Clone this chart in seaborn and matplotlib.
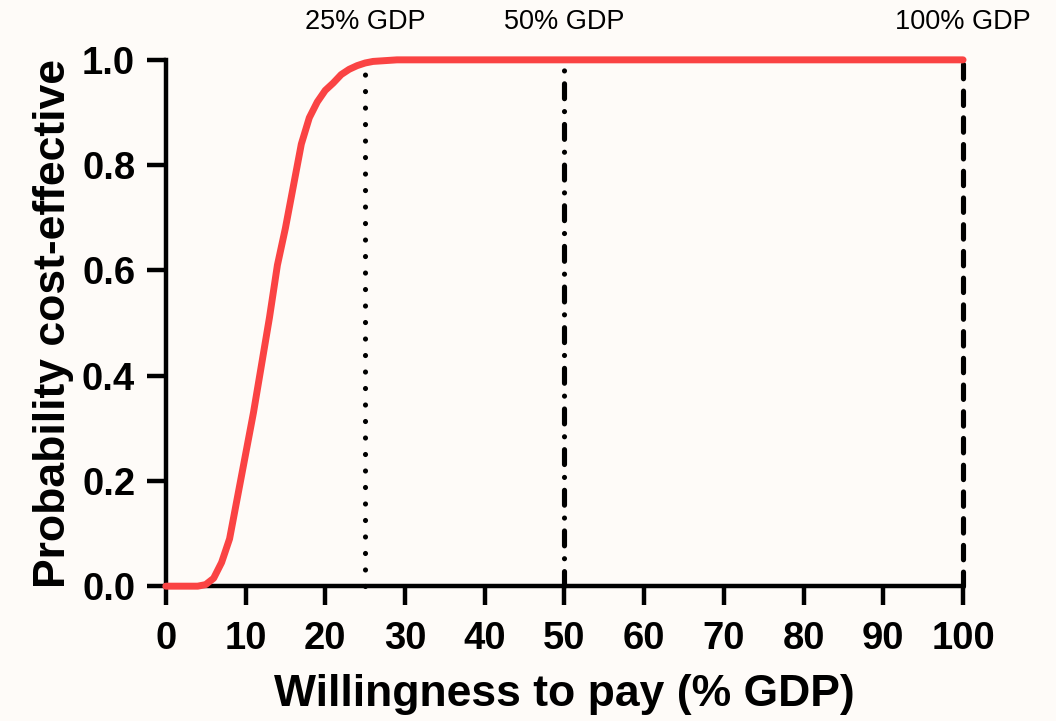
import matplotlib
matplotlib.use("Agg")
import matplotlib.pyplot as plt
import seaborn as sns
import pandas as pd

# ===============================
# DATA
# ===============================
wtp = [0, 1, 2, 3, 4, 5, 6, 7, 8, 9, 10, 11, 12, 13, 14, 15, 16, 17, 18, 19,
       20, 21, 22, 23, 24, 25, 26, 27, 28, 29, 30, 40, 50, 60, 70, 80, 90, 100]
prob = [0.0, 0.0, 0.0, 0.0, 0.0, 0.003, 0.015, 0.045, 0.09, 0.17, 0.25, 0.33,
        0.42, 0.51, 0.61, 0.68, 0.76, 0.84, 0.89, 0.92, 0.942, 0.956, 0.972,
        0.982, 0.989, 0.994, 0.997, 0.998, 0.999, 1.0, 1.0, 1.0, 1.0, 1.0,
        1.0, 1.0, 1.0, 1.0]

thresholds = [25, 50, 100]
threshold_labels = ["25% GDP", "50% GDP", "100% GDP"]

x_ticks = [0, 10, 20, 30, 40, 50, 60, 70, 80, 90, 100]
y_ticks = [0.0, 0.2, 0.4, 0.6, 0.8, 1.0]

df = pd.DataFrame({"wtp": wtp, "prob": prob})

# ===============================
# STYLE
# ===============================
sns.set_theme(style="ticks")
plt.rcParams["font.family"] = ["Liberation Sans", "DejaVu Sans"]
bg = "#fefbf8"

fig = plt.figure(figsize=(10.56, 7.21), dpi=100, facecolor=bg)
ax = fig.add_axes([0.157, 0.187, 0.755, 0.730], facecolor=bg)

# threshold lines: dotted / dash-dot / dashed
styles = [(0, (0.01, 3.2)), (0, (2.9, 2.5, 0.01, 2.5)), (0, (2.8, 2.4))]
for t, ls, lab in zip(thresholds, styles, threshold_labels):
    ax.plot([t, t], [0, 1], color="black", lw=3.7, ls=ls,
            dash_capstyle="round", solid_capstyle="round", clip_on=False, zorder=2)
    ax.text(t, 1.072, lab, ha="center", va="center", fontsize=19.5,
            color="black", clip_on=False)

# curve
sns.lineplot(data=df, x="wtp", y="prob", color="#fa4343", lw=5, ax=ax,
             clip_on=False, zorder=3)

ax.set_xlim(0, 100)
ax.set_ylim(0, 1)
ax.set_xticks(x_ticks)
ax.set_yticks(y_ticks)
ax.set_xticklabels([str(v) for v in x_ticks])
ax.set_yticklabels([f"{v:.1f}" for v in y_ticks])

for lab in ax.get_xticklabels() + ax.get_yticklabels():
    lab.set_fontweight("bold")
ax.tick_params(axis="both", labelsize=27.5, width=3.2, length=14, color="black",
               labelcolor="black")
ax.tick_params(axis="x", pad=11)
ax.tick_params(axis="y", pad=8)

ax.set_xlabel("Willingness to pay (% GDP)", fontsize=32, fontweight="bold",
              color="black", labelpad=12)
ax.set_ylabel("Probability cost-effective", fontsize=32, fontweight="bold",
              color="black", labelpad=6)

sns.despine(ax=ax)
for side in ["left", "bottom"]:
    ax.spines[side].set_linewidth(3.2)
    ax.spines[side].set_color("black")

fig.savefig("out.png", dpi=100, facecolor=bg)
